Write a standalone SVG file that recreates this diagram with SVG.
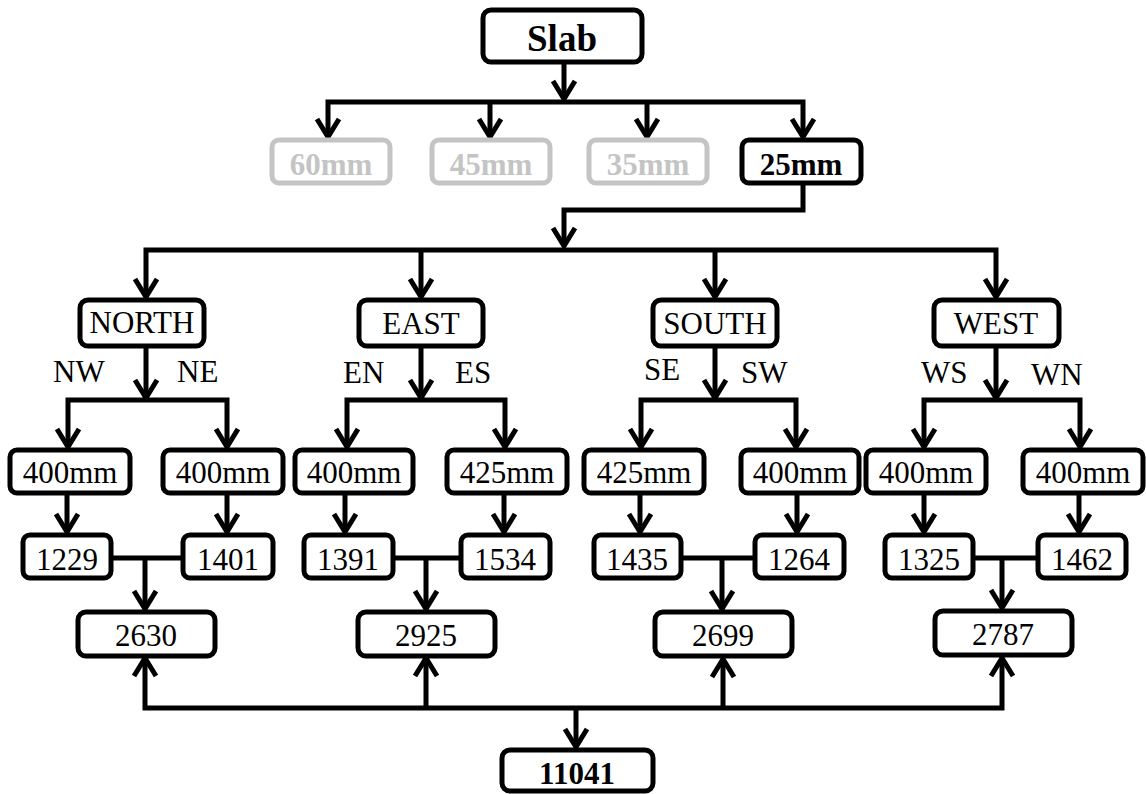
<svg xmlns="http://www.w3.org/2000/svg" width="1146" height="794" viewBox="0 0 1146 794">
  <style>
    .box { fill: #fff; stroke: #000; stroke-width: 5; }
    .dim { fill: #fff; stroke: #c4c4c4; stroke-width: 5; }
    text { font-family: 'Liberation Serif', Tinos, 'Times New Roman', 'DejaVu Serif', serif; font-size: 31px; fill: #000; }
    .t { text-anchor: middle; }
    .tb { font-weight: bold; text-anchor: middle; }
    .tg { font-weight: bold; fill: #c4c4c4; text-anchor: middle; }
    .big { font-size: 37px; }
    .ln { fill: none; stroke: #000; stroke-width: 5; stroke-linejoin: miter; }
    .ar { marker-end: url(#head); }
    .ar2 { marker-start: url(#head); marker-end: url(#head); }
  </style>
  <defs>
    <marker id="head" markerUnits="userSpaceOnUse" viewBox="0 0 40 40" markerWidth="40" markerHeight="40" refX="20" refY="20" orient="auto-start-reverse" overflow="visible">
      <path d="M2,9 L20,20 L2,31" fill="none" stroke="#000" stroke-width="5" stroke-linejoin="round" stroke-linecap="butt"/>
    </marker>
  </defs>

  <!-- connectors -->
  <g id="connectors">
    <!-- slab to thicknesses -->
    <path class="ln ar" d="M564,62 V99"/>
    <path class="ln ar2" d="M328,137 V102 H803 V137"/>
    <path class="ln ar" d="M490,102 V137"/>
    <path class="ln ar" d="M647,102 V137"/>
    <!-- 25mm to orientations -->
    <path class="ln ar" d="M803,183 V210 H564 V246"/>
    <path class="ln ar2" d="M146,297 V250 H996 V297"/>
    <path class="ln ar" d="M421,250 V297"/>
    <path class="ln ar" d="M715,250 V297"/>
    <!-- orientation to sub-branches -->
    <path class="ln ar" d="M146,346 V398"/>
    <path class="ln ar" d="M421,346 V398"/>
    <path class="ln ar" d="M715,346 V398"/>
    <path class="ln ar" d="M996,346 V398"/>
    <path class="ln ar2" d="M68,447 V400 H227 V447"/>
    <path class="ln ar2" d="M347,447 V400 H505 V447"/>
    <path class="ln ar2" d="M641,447 V400 H796 V447"/>
    <path class="ln ar2" d="M924,447 V400 H1080 V447"/>
    <!-- spacing to counts -->
    <path class="ln ar" d="M67,493 V532"/>
    <path class="ln ar" d="M227,493 V532"/>
    <path class="ln ar" d="M345,493 V532"/>
    <path class="ln ar" d="M504,493 V532"/>
    <path class="ln ar" d="M640,493 V532"/>
    <path class="ln ar" d="M797,493 V532"/>
    <path class="ln ar" d="M924,493 V532"/>
    <path class="ln ar" d="M1079,493 V532"/>
    <!-- pair sums -->
    <path class="ln" d="M111,558 H183"/>
    <path class="ln" d="M393,558 H461"/>
    <path class="ln" d="M681,558 H755"/>
    <path class="ln" d="M973,558 H1038"/>
    <path class="ln ar" d="M145,558 V609"/>
    <path class="ln ar" d="M426,558 V609"/>
    <path class="ln ar" d="M722,558 V609"/>
    <path class="ln ar" d="M1002,558 V608"/>
    <!-- grand total -->
    <path class="ln ar2" d="M145,658 V708 H1002 V658"/>
    <path class="ln ar" d="M426,708 V658"/>
    <path class="ln ar" d="M723,708 V659"/>
    <path class="ln ar" d="M576,708 V747"/>
  </g>

  <g id="slab"><rect class="box" x="483" y="10" width="159" height="52" rx="8"/><text class="tb big" x="562" y="51">Slab</text></g>

  <g id="t60"><rect class="dim" x="272" y="140" width="118" height="43" rx="7"/><text class="tg" x="331" y="175">60mm</text></g>
  <g id="t45"><rect class="dim" x="432" y="140" width="118" height="43" rx="7"/><text class="tg" x="491" y="175">45mm</text></g>
  <g id="t35"><rect class="dim" x="589" y="140" width="118" height="43" rx="7"/><text class="tg" x="648" y="175">35mm</text></g>
  <g id="t25"><rect class="box" x="742" y="140" width="119" height="43" rx="7"/><text class="tb" x="801" y="175">25mm</text></g>

  <g id="north"><rect class="box" x="80" y="300" width="124" height="46" rx="8"/><text class="t" x="142" y="333">NORTH</text></g>
  <g id="east"><rect class="box" x="359" y="300" width="124" height="46" rx="8"/><text class="t" x="421" y="334">EAST</text></g>
  <g id="south"><rect class="box" x="653" y="300" width="124" height="46" rx="8"/><text class="t" x="715" y="334">SOUTH</text></g>
  <g id="west"><rect class="box" x="934" y="300" width="125" height="46" rx="8"/><text class="t" x="996" y="334">WEST</text></g>

  <g id="branch-labels">
    <text x="53" y="382">NW</text>
    <text x="177" y="382">NE</text>
    <text x="343" y="383">EN</text>
    <text x="455" y="383">ES</text>
    <text x="644" y="380">SE</text>
    <text x="741" y="383">SW</text>
    <text x="921" y="383">WS</text>
    <text x="1031" y="385">WN</text>
  </g>

  <g id="nw-mm"><rect class="box" x="10" y="450" width="120" height="43" rx="7"/><text class="t" x="70" y="483">400mm</text></g>
  <g id="ne-mm"><rect class="box" x="163" y="450" width="120" height="43" rx="7"/><text class="t" x="223" y="483">400mm</text></g>
  <g id="en-mm"><rect class="box" x="295" y="450" width="118" height="43" rx="7"/><text class="t" x="354" y="483">400mm</text></g>
  <g id="es-mm"><rect class="box" x="447" y="450" width="120" height="43" rx="7"/><text class="t" x="507" y="483">425mm</text></g>
  <g id="se-mm"><rect class="box" x="584" y="450" width="120" height="43" rx="7"/><text class="t" x="644" y="483">425mm</text></g>
  <g id="sw-mm"><rect class="box" x="741" y="450" width="118" height="43" rx="7"/><text class="t" x="800" y="483">400mm</text></g>
  <g id="ws-mm"><rect class="box" x="866" y="450" width="120" height="43" rx="7"/><text class="t" x="926" y="483">400mm</text></g>
  <g id="wn-mm"><rect class="box" x="1023" y="450" width="120" height="43" rx="7"/><text class="t" x="1083" y="483">400mm</text></g>

  <g id="nw-n"><rect class="box" x="23" y="535" width="88" height="43" rx="7"/><text class="t" x="67" y="570">1229</text></g>
  <g id="ne-n"><rect class="box" x="183" y="535" width="90" height="43" rx="7"/><text class="t" x="228" y="570">1401</text></g>
  <g id="en-n"><rect class="box" x="304" y="535" width="89" height="43" rx="7"/><text class="t" x="348" y="570">1391</text></g>
  <g id="es-n"><rect class="box" x="461" y="535" width="89" height="43" rx="7"/><text class="t" x="505" y="570">1534</text></g>
  <g id="se-n"><rect class="box" x="594" y="535" width="87" height="43" rx="7"/><text class="t" x="637" y="570">1435</text></g>
  <g id="sw-n"><rect class="box" x="755" y="535" width="89" height="43" rx="7"/><text class="t" x="799" y="570">1264</text></g>
  <g id="ws-n"><rect class="box" x="885" y="535" width="88" height="43" rx="7"/><text class="t" x="929" y="570">1325</text></g>
  <g id="wn-n"><rect class="box" x="1038" y="535" width="88" height="43" rx="7"/><text class="t" x="1082" y="570">1462</text></g>

  <g id="north-sum"><rect class="box" x="78" y="612" width="137" height="44" rx="8"/><text class="t" x="146" y="646">2630</text></g>
  <g id="east-sum"><rect class="box" x="358" y="612" width="137" height="44" rx="8"/><text class="t" x="426" y="646">2925</text></g>
  <g id="south-sum"><rect class="box" x="655" y="612" width="137" height="44" rx="8"/><text class="t" x="723" y="646">2699</text></g>
  <g id="west-sum"><rect class="box" x="935" y="611" width="137" height="44" rx="8"/><text class="t" x="1003" y="645">2787</text></g>

  <g id="total"><rect class="box" x="502" y="750" width="151" height="41" rx="8"/><text class="tb" x="577" y="784">11041</text></g>
</svg>
